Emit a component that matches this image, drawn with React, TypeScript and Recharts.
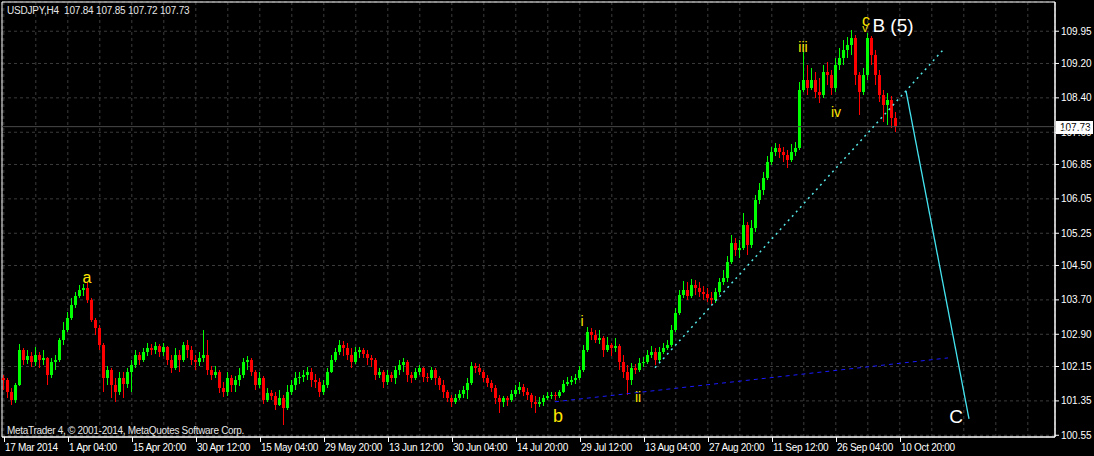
import React from 'react'
import { ComposedChart, Bar, XAxis, YAxis, CartesianGrid, ReferenceLine, ReferenceDot, ReferenceArea } from 'recharts'

// USDJPY H4 candles (each entry = one plotted candle)
const opens = [
  101.88, 101.84, 101.56, 101.37, 101.72, 102.54, 102.30, 102.40, 102.26, 102.42,
  102.30, 102.35, 101.95, 102.26, 102.30, 102.77, 103.00, 103.28, 103.58, 103.79,
  103.93, 103.98, 103.70, 103.23, 103.05, 102.65, 101.88, 102.07, 101.72, 101.56,
  101.88, 101.75, 102.02, 102.19, 102.42, 102.30, 102.49, 102.58, 102.54, 102.63,
  102.49, 102.61, 102.30, 102.12, 102.42, 102.30, 102.65, 102.54, 102.30, 102.26,
  102.35, 102.42, 102.07, 101.95, 102.02, 101.65, 101.56, 101.88, 101.72, 101.84,
  101.95, 102.26, 102.30, 102.02, 101.72, 101.88, 101.37, 101.54, 101.47, 101.26,
  101.42, 101.19, 101.56, 101.72, 101.88, 101.91, 101.95, 102.02, 101.84, 101.79,
  101.56, 101.72, 102.02, 102.30, 102.49, 102.65, 102.58, 102.42, 102.26, 102.49,
  102.54, 102.44, 102.35, 102.30, 101.95, 102.02, 101.79, 101.95, 101.88, 102.07,
  102.19, 102.26, 101.95, 101.88, 102.02, 102.12, 101.91, 101.88, 102.07, 101.88,
  101.72, 101.56, 101.42, 101.33, 101.42, 101.51, 101.61, 101.77, 102.16, 102.12,
  102.02, 101.88, 101.77, 101.65, 101.42, 101.33, 101.42, 101.37, 101.51, 101.61,
  101.68, 101.56, 101.49, 101.33, 101.28, 101.33, 101.42, 101.47, 101.49, 101.47,
  101.56, 101.75, 101.79, 101.84, 101.88, 102.07, 102.54, 102.96, 102.89, 102.77,
  102.82, 102.54, 102.65, 102.58, 102.63, 102.26, 102.02, 101.84, 102.12, 102.07,
  102.23, 102.26, 102.42, 102.49, 102.30, 102.49, 102.58, 102.65, 103.00, 103.40,
  103.82, 103.93, 103.79, 104.05, 103.98, 103.89, 103.84, 103.75, 103.70, 103.89,
  104.12, 104.22, 104.58, 105.03, 104.86, 104.91, 105.44, 104.98, 105.38, 106.03,
  106.26, 106.54, 106.91, 107.14, 107.24, 107.14, 107.07, 106.96, 107.14, 107.24,
  108.59, 108.82, 108.63, 108.82, 108.54, 108.47, 109.00, 108.93, 108.63, 109.17,
  109.33, 109.52, 109.63, 109.80, 108.93, 108.54, 108.93, 109.80, 109.40, 108.93,
  108.47, 108.24, 108.35, 107.93,
]

const highs = [
  101.95, 101.88, 101.65, 101.77, 102.68, 102.58, 102.54, 102.49, 102.61, 102.49,
  102.54, 102.38, 102.35, 102.42, 102.82, 103.19, 103.42, 103.75, 103.89, 104.05,
  104.07, 104.12, 103.75, 103.28, 103.12, 102.70, 102.16, 102.12, 101.88, 102.02,
  102.02, 102.12, 102.30, 102.54, 102.49, 102.58, 102.70, 102.68, 102.72, 102.68,
  102.70, 102.63, 102.42, 102.58, 102.54, 102.72, 102.77, 102.63, 102.42, 102.49,
  103.00, 102.77, 102.16, 102.16, 102.07, 101.79, 102.02, 101.95, 101.93, 102.12,
  102.35, 102.40, 102.35, 102.07, 102.02, 101.93, 101.65, 101.61, 101.56, 101.61,
  101.49, 101.72, 101.84, 102.02, 102.02, 102.07, 102.14, 102.12, 101.98, 101.88,
  101.84, 102.12, 102.42, 102.58, 102.77, 102.75, 102.70, 102.58, 102.61, 102.61,
  102.58, 102.54, 102.42, 102.35, 102.12, 102.07, 102.07, 102.02, 102.16, 102.30,
  102.35, 102.30, 102.02, 102.12, 102.19, 102.14, 102.00, 102.14, 102.12, 101.93,
  101.84, 101.61, 101.49, 101.51, 101.61, 101.70, 101.88, 102.26, 102.23, 102.21,
  102.07, 101.95, 101.84, 101.72, 101.49, 101.47, 101.47, 101.61, 101.72, 101.79,
  101.75, 101.65, 101.54, 101.47, 101.44, 101.49, 101.56, 101.56, 101.56, 101.61,
  101.84, 101.91, 101.93, 101.98, 102.16, 102.65, 103.07, 103.05, 103.00, 103.00,
  102.86, 102.84, 102.70, 102.82, 102.68, 102.42, 102.19, 102.23, 102.21, 102.35,
  102.38, 102.54, 102.63, 102.58, 102.61, 102.70, 102.77, 103.12, 103.51, 103.93,
  104.14, 104.12, 104.19, 104.16, 104.12, 104.03, 103.98, 103.89, 103.98, 104.22,
  104.40, 104.72, 105.21, 105.14, 105.10, 105.72, 105.51, 105.56, 106.14, 106.42,
  106.68, 107.05, 107.26, 107.35, 107.33, 107.26, 107.19, 107.33, 107.38, 108.77,
  109.47, 109.17, 109.10, 109.00, 108.87, 109.17, 109.24, 109.05, 109.33, 109.56,
  109.75, 109.82, 109.98, 109.87, 109.00, 109.10, 109.91, 109.84, 109.52, 109.05,
  108.59, 108.52, 108.45, 108.07,
]

const lows = [
  101.61, 101.42, 101.26, 101.30, 101.70, 102.19, 102.21, 102.14, 102.16, 102.12,
  102.19, 101.72, 101.88, 102.07, 102.26, 102.65, 102.96, 103.23, 103.51, 103.75,
  103.79, 103.63, 103.19, 102.89, 102.54, 101.56, 101.72, 101.42, 101.33, 101.49,
  101.42, 101.65, 101.56, 102.12, 102.19, 102.26, 102.40, 102.42, 102.44, 102.38,
  102.40, 102.19, 102.00, 102.07, 102.02, 102.26, 102.35, 102.19, 102.07, 102.16,
  102.26, 101.95, 101.84, 101.88, 101.54, 101.44, 101.47, 101.56, 101.56, 101.70,
  101.88, 102.07, 101.93, 101.61, 101.65, 101.28, 101.33, 101.37, 101.14, 101.23,
  100.79, 101.14, 101.49, 101.61, 101.75, 101.79, 101.84, 101.68, 101.65, 101.44,
  101.49, 101.65, 102.00, 102.26, 102.42, 102.40, 102.30, 102.12, 102.21, 102.35,
  102.35, 102.19, 102.14, 101.84, 101.88, 101.65, 101.72, 101.79, 101.75, 101.95,
  102.02, 101.79, 101.77, 101.84, 101.95, 101.79, 101.79, 101.84, 101.72, 101.61,
  101.42, 101.33, 101.21, 101.28, 101.37, 101.42, 101.40, 101.72, 102.00, 101.95,
  101.79, 101.68, 101.56, 101.28, 101.07, 101.21, 101.23, 101.33, 101.44, 101.51,
  101.47, 101.37, 101.19, 101.07, 101.21, 101.23, 101.37, 101.40, 101.37, 101.42,
  101.54, 101.70, 101.72, 101.75, 101.84, 102.02, 102.49, 102.77, 102.70, 102.68,
  102.38, 102.49, 102.40, 102.49, 102.07, 101.88, 101.49, 101.72, 101.98, 102.02,
  102.14, 102.21, 102.35, 102.19, 102.26, 102.44, 102.54, 102.61, 102.96, 103.35,
  103.75, 103.70, 103.75, 103.82, 103.77, 103.70, 103.65, 103.58, 103.63, 103.82,
  104.05, 104.12, 104.54, 104.72, 104.68, 104.86, 104.75, 104.91, 105.28, 105.93,
  106.14, 106.49, 106.84, 107.05, 107.00, 106.91, 106.77, 106.91, 107.05, 107.19,
  108.54, 108.47, 108.59, 108.40, 108.28, 108.40, 108.70, 108.47, 108.54, 109.05,
  109.17, 109.33, 109.40, 108.70, 108.00, 108.47, 108.82, 109.17, 108.70, 108.31,
  107.84, 107.77, 107.70, 107.61,
]

const closes = [
  101.84, 101.56, 101.37, 101.72, 102.54, 102.30, 102.40, 102.26, 102.42, 102.30,
  102.35, 101.95, 102.26, 102.30, 102.77, 103.00, 103.28, 103.58, 103.79, 103.93,
  103.98, 103.70, 103.23, 103.05, 102.65, 101.88, 102.07, 101.72, 101.56, 101.88,
  101.75, 102.02, 102.19, 102.42, 102.30, 102.49, 102.58, 102.54, 102.63, 102.49,
  102.61, 102.30, 102.12, 102.42, 102.30, 102.65, 102.54, 102.30, 102.26, 102.35,
  102.42, 102.07, 101.95, 102.02, 101.65, 101.56, 101.88, 101.72, 101.84, 101.95,
  102.26, 102.30, 102.02, 101.72, 101.88, 101.37, 101.54, 101.47, 101.26, 101.42,
  101.19, 101.56, 101.72, 101.88, 101.91, 101.95, 102.02, 101.84, 101.79, 101.56,
  101.72, 102.02, 102.30, 102.49, 102.65, 102.58, 102.42, 102.26, 102.49, 102.54,
  102.44, 102.35, 102.30, 101.95, 102.02, 101.79, 101.95, 101.88, 102.07, 102.19,
  102.26, 101.95, 101.88, 102.02, 102.12, 101.91, 101.88, 102.07, 101.88, 101.72,
  101.56, 101.42, 101.33, 101.42, 101.51, 101.61, 101.77, 102.16, 102.12, 102.02,
  101.88, 101.77, 101.65, 101.42, 101.33, 101.42, 101.37, 101.51, 101.61, 101.68,
  101.56, 101.49, 101.33, 101.28, 101.33, 101.42, 101.47, 101.49, 101.47, 101.56,
  101.75, 101.79, 101.84, 101.88, 102.07, 102.54, 102.96, 102.89, 102.77, 102.82,
  102.54, 102.65, 102.58, 102.63, 102.26, 102.02, 101.84, 102.12, 102.07, 102.23,
  102.26, 102.42, 102.49, 102.30, 102.49, 102.58, 102.65, 103.00, 103.40, 103.82,
  103.93, 103.79, 104.05, 103.98, 103.89, 103.84, 103.75, 103.70, 103.89, 104.12,
  104.22, 104.58, 105.03, 104.86, 104.91, 105.44, 104.98, 105.38, 106.03, 106.26,
  106.54, 106.91, 107.14, 107.24, 107.14, 107.07, 106.96, 107.14, 107.24, 108.59,
  108.82, 108.63, 108.82, 108.54, 108.47, 109.00, 108.93, 108.63, 109.17, 109.33,
  109.52, 109.63, 109.80, 108.93, 108.54, 108.93, 109.80, 109.40, 108.93, 108.47,
  108.24, 108.35, 107.93, 107.73,
]

const dateLabels = [
  '17 Mar 2014', '1 Apr 04:00', '15 Apr 20:00', '30 Apr 12:00', '15 May 04:00',
  '29 May 20:00', '13 Jun 12:00', '30 Jun 04:00', '14 Jul 20:00', '29 Jul 12:00',
  '13 Aug 04:00', '27 Aug 20:00', '11 Sep 12:00', '26 Sep 04:00', '10 Oct 20:00',
]
const priceTicks = [100.55, 101.35, 102.15, 102.9, 103.7, 104.5, 105.25, 106.05, 106.85, 107.6, 108.4, 109.2, 109.95]
const gridIdx = Array.from({ length: 33 }, (_, k) => k * 8)
const lastPrice = 107.73

// trend lines (bar index, price)
const supportX = [162.8, 235.05]
const supportY = [102.12, 109.54]
const baseX = [137.8, 236.05]
const baseY = [101.33, 102.35]
const waveCX = [225.55, 241.3]
const waveCY = [108.56, 100.93]

// wave labels
const labelTexts = ['a', 'b', 'i', 'ii', 'iii', 'iv', 'c', 'v', 'B (5)', 'C']
const labelIdx = [20.8, 138.55, 144.55, 158.55, 199.8, 208.05, 215.55, 215.3, 222.3, 238.05]
const labelPrice = [104.23, 101.0, 103.21, 101.44, 109.59, 108.07, 110.21, 110.02, 110.1, 101.0]

const chartData = closes.map((c, i) => ({ i, o: opens[i], h: highs[i], l: lows[i], c, range: [lows[i], highs[i]] }))

const FONT = '"Liberation Sans", Arial, sans-serif'
const YELLOW = '#ffe600'

function labelStyle(t: string) {
  if (t === 'B (5)' || t === 'C') return { fill: '#ffffff', fontSize: 19 }
  if (t === 'b') return { fill: YELLOW, fontSize: 18 }
  if (t === 'a' || t === 'c') return { fill: YELLOW, fontSize: 16 }
  if (t === 'v') return { fill: YELLOW, fontSize: 11 }
  return { fill: YELLOW, fontSize: 14 }
}

function Candle(props: any) {
  const { x, y, width, height, payload } = props
  if (!payload) return null
  const top = Math.min(y, y + height)
  const span = Math.abs(height)
  const { o, c, h, l } = payload
  const toY = (v: number) => top + ((h - v) / (h - l || 1)) * span
  const color = c >= o ? '#00ff00' : '#ff0000'
  const cx = Math.round(x + width / 2)
  const bTop = toY(Math.max(o, c))
  const bBot = toY(Math.min(o, c))
  return (
    <g shapeRendering="crispEdges">
      <rect x={cx} y={top} width={1} height={Math.max(1, span)} fill={color} />
      <rect x={cx - 1} y={bTop} width={3} height={Math.max(1, bBot - bTop)} fill={color} />
    </g>
  )
}

function DateTick(props: any) {
  const { x, y, payload } = props
  const v = payload.value
  if (v % 16 !== 0) return null
  const label = dateLabels[v / 16]
  if (!label) return null
  const px = Math.round(x)
  return (
    <g>
      <line x1={px + 0.5} x2={px + 0.5} y1={y - 6} y2={y - 1} stroke="#ffffff" />
      <text x={px + 1} y={y + 8} fill="#ffffff" fontSize={10} fontFamily={FONT} letterSpacing={-0.3}>{label}</text>
    </g>
  )
}

function PriceBox(props: any) {
  const { viewBox } = props
  if (!viewBox) return null
  const yy = Math.round(viewBox.y)
  const right = viewBox.x + viewBox.width
  return (
    <g>
      <rect x={right + 1} y={yy - 6} width={37} height={13} fill="#ffffff" />
      <text x={right + 5} y={yy + 4} fontSize={10} fontFamily={FONT} fill="#000000">{lastPrice.toFixed(2)}</text>
    </g>
  )
}

export default function App() {
  return (
    <div style={{ position: 'absolute', left: 0, top: 0, width: 1094, height: 456, background: '#000000', overflow: 'hidden' }}>
      <ComposedChart width={1094} height={456} data={chartData} margin={{ top: 2, right: 0, bottom: 0, left: 2 }}>
        <CartesianGrid stroke="#3c3c3c" strokeDasharray="3 3" />
        <XAxis
          dataKey="i"
          type="number"
          domain={[-0.45, 262.8]}
          ticks={gridIdx}
          interval={0}
          height={19}
          tickSize={6}
          tickMargin={0}
          tickLine={false}
          axisLine={{ stroke: '#ffffff' }}
          tick={<DateTick />}
          allowDataOverflow
        />
        <YAxis
          orientation="right"
          domain={[100.51, 110.63]}
          ticks={priceTicks}
          width={39}
          tickSize={4}
          tickMargin={2}
          axisLine={{ stroke: '#ffffff' }}
          tickLine={{ stroke: '#ffffff' }}
          tick={{ fill: '#ffffff', fontSize: 10, fontFamily: FONT }}
          tickFormatter={(v: number) => v.toFixed(2)}
          allowDataOverflow
        />
        <ReferenceArea x1={-0.45} x2={262.8} y1={100.51} y2={110.63} fill="none" stroke="#ffffff" ifOverflow="visible" />
        <ReferenceLine y={lastPrice} stroke="#4a4a4a" label={<PriceBox />} />
        <Bar dataKey="range" barSize={3} shape={<Candle />} isAnimationActive={false} />
        <ReferenceLine
          segment={[{ x: supportX[0], y: supportY[0] }, { x: supportX[1], y: supportY[1] }]}
          stroke="#55e6e6"
          strokeWidth={1.5}
          strokeDasharray="2 4"
        />
        <ReferenceLine
          segment={[{ x: baseX[0], y: baseY[0] }, { x: baseX[1], y: baseY[1] }]}
          stroke="#1a1aff"
          strokeDasharray="4 4"
        />
        <ReferenceLine
          segment={[{ x: waveCX[0], y: waveCY[0] }, { x: waveCX[1], y: waveCY[1] }]}
          stroke="#44e4f0"
          strokeWidth={1.3}
        />
        {labelTexts.map((t, k) => (
          <ReferenceDot
            key={t}
            x={labelIdx[k]}
            y={labelPrice[k]}
            r={0}
            fill="none"
            stroke="none"
            label={{ value: t, position: 'center', fontFamily: FONT, ...labelStyle(t) }}
          />
        ))}
      </ComposedChart>
      <div style={{ position: 'absolute', left: 7, top: 5, fontSize: 10, lineHeight: '12px', color: '#e6e6e6', fontFamily: FONT, letterSpacing: -0.2, whiteSpace: 'pre' }}>
        {'USDJPY,H4  107.84 107.85 107.72 107.73'}
      </div>
      <div style={{ position: 'absolute', left: 7, top: 425, fontSize: 10, lineHeight: '12px', color: '#e6e6e6', fontFamily: FONT, letterSpacing: -0.3, whiteSpace: 'pre' }}>
        MetaTrader 4, © 2001-2014, MetaQuotes Software Corp.
      </div>
    </div>
  )
}
